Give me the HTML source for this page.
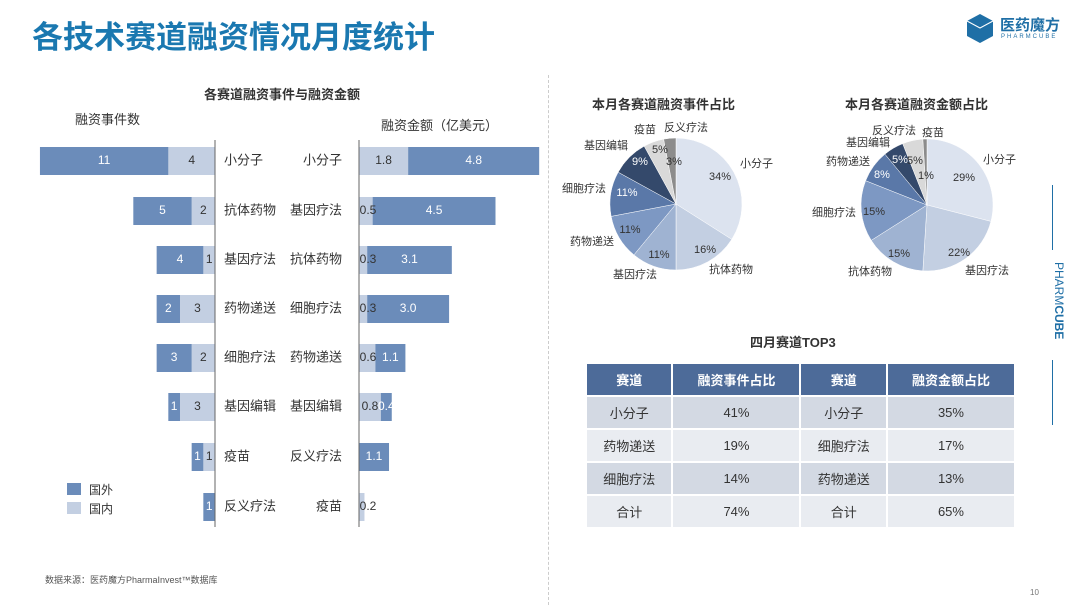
<!DOCTYPE html>
<html><head><meta charset="utf-8"><style>
body{margin:0;width:1080px;height:606px;background:#fff;position:relative;overflow:hidden;font-family:"Liberation Sans","Noto Sans CJK SC",sans-serif;color:#333}
.a{position:absolute;white-space:nowrap}
table{position:absolute;left:585px;top:362px;border-collapse:collapse;width:431px;font-size:13px}
td,th{border:2px solid #fff;text-align:center;height:31px;padding:0}
th{background:#4d6b99;color:#fff;font-weight:bold}
tr.g td{background:#d3d9e3}tr.w td{background:#e9ecf1}
</style></head><body>
<div class="a" style="left:32px;top:12px;font-size:31px;font-weight:bold;color:#1a78b0">各技术赛道融资情况月度统计</div>
<svg class="a" style="left:965px;top:13px" width="30" height="30"><polygon points="15,1 28,8 28,23 15,30 2,23 2,8" fill="#1f6fa6"/><polyline points="2,8 15,15 28,8 M15,15 15,30" fill="none" stroke="#fff" stroke-width="1"/></svg>
<div class="a" style="left:1000px;top:14px;font-size:15px;font-weight:bold;color:#1f6fa6">医药魔方</div>
<div class="a" style="left:1001px;top:34px;font-size:6px;letter-spacing:2px;color:#1f6fa6">PHARMCUBE</div>
<div class="a" style="left:1052px;top:185px;width:1px;height:65px;background:#1f6fa6"></div>
<div class="a" style="left:1052px;top:360px;width:1px;height:65px;background:#1f6fa6"></div>
<div class="a" style="left:1066px;top:262px;transform:rotate(90deg);transform-origin:0 0;font-size:12px;color:#1f6fa6">PHARM<b>CUBE</b></div>
<div class="a" style="left:548px;top:75px;height:530px;border-left:1px dashed #ccc"></div>
<div class="a" style="left:204px;top:84px;font-size:13px;font-weight:bold">各赛道融资事件与融资金额</div>
<div class="a" style="left:75px;top:109px;font-size:13px">融资事件数</div>
<div class="a" style="left:381px;top:115px;font-size:13px">融资金额（亿美元）</div>
<svg class="a" style="left:0;top:0" width="1080" height="606" id="s"></svg>
<div class="a" style="left:67px;top:483px;width:14px;height:12px;background:#6b8cba"></div><div class="a" style="left:89px;top:481px;font-size:12px">国外</div>
<div class="a" style="left:67px;top:502px;width:14px;height:12px;background:#c3cfe2"></div><div class="a" style="left:89px;top:500px;font-size:12px">国内</div>
<div class="a" style="left:592px;top:94px;font-size:13px;font-weight:bold">本月各赛道融资事件占比</div>
<div class="a" style="left:845px;top:94px;font-size:13px;font-weight:bold">本月各赛道融资金额占比</div>
<div class="a" style="left:750px;top:332px;font-size:13px;font-weight:bold">四月赛道TOP3</div>
<table><tr><th>赛道</th><th>融资事件占比</th><th>赛道</th><th>融资金额占比</th></tr>
<tr class="g"><td>小分子</td><td>41%</td><td>小分子</td><td>35%</td></tr>
<tr class="w"><td>药物递送</td><td>19%</td><td>细胞疗法</td><td>17%</td></tr>
<tr class="g"><td>细胞疗法</td><td>14%</td><td>药物递送</td><td>13%</td></tr>
<tr class="w"><td>合计</td><td>74%</td><td>合计</td><td>65%</td></tr></table>
<div class="a" style="left:45px;top:573px;font-size:9px;color:#555">数据来源：医药魔方PharmaInvest™数据库</div>
<div class="a" style="left:1030px;top:588px;font-size:8px;color:#777">10</div>
<script>
var s=document.getElementById('s'),h='';
var D='#6b8cba',L='#c3cfe2';
function r(x,y,w,hh,c){h+='<rect x="'+x+'" y="'+y+'" width="'+w+'" height="'+hh+'" fill="'+c+'"/>';}
function t(x,y,txt,o){o=o||{};h+='<text x="'+x+'" y="'+y+'" font-size="'+(o.fs||12)+'" fill="'+(o.c||'#333')+'" text-anchor="'+(o.a||'middle')+'" dominant-baseline="middle" font-family="Liberation Sans,Noto Sans CJK SC,sans-serif">'+txt+'</text>';}
var ys=[161,211,260,309,358,407,457,507];
var ln=['小分子','抗体药物','基因疗法','药物递送','细胞疗法','基因编辑','疫苗','反义疗法'];
var lv=[[11,4],[5,2],[4,1],[2,3],[3,2],[1,3],[1,1],[1,0]];
var rn=['小分子','基因疗法','抗体药物','细胞疗法','药物递送','基因编辑','反义疗法','疫苗'];
var rv=[[1.8,4.8],[0.5,4.5],[0.3,3.1],[0.3,3.0],[0.6,1.1],[0.8,0.4],[0,1.1],[0.2,0]];
var ku=11.67,ru=27.3;
for(var i=0;i<8;i++){var y=ys[i]-14;
var lw=lv[i][1]*ku,dw=lv[i][0]*ku;
r(215-lw,y,lw,28,L);r(215-lw-dw,y,dw,28,D);
t(215-lw-dw/2,ys[i],lv[i][0],{c:'#fff'});if(lv[i][1])t(215-lw/2,ys[i],lv[i][1]);
t(224,ys[i],ln[i],{a:'start',fs:13});
var a=rv[i][0]*ru,b=rv[i][1]*ru;
r(359,y,a,28,L);r(359+a,y,b,28,D);
if(rv[i][0])t(359+Math.max(a,18)/2,ys[i],rv[i][0].toFixed(1));
if(rv[i][1])t(359+a+b/2,ys[i],rv[i][1].toFixed(1),{c:'#fff'});
t(342,ys[i],rn[i],{a:'end',fs:13});}
h+='<line x1="215" y1="140" x2="215" y2="527" stroke="#666"/><line x1="359" y1="140" x2="359" y2="527" stroke="#666"/>';
var cols=['#dce3ef','#c3cfe2','#9fb3d2','#7d98c3','#5a78a8','#34496b','#d9d9d9','#8c8c8c'];
function pie(cx,cy,R,v,pc){var a0=-Math.PI/2;for(var i=0;i<v.length;i++){var a1=a0+v[i]/100*2*Math.PI;
var x0=cx+R*Math.cos(a0),y0=cy+R*Math.sin(a0),x1=cx+R*Math.cos(a1),y1=cy+R*Math.sin(a1);
h+='<path d="M'+cx+','+cy+'L'+x0+','+y0+'A'+R+','+R+' 0 '+(a1-a0>Math.PI?1:0)+' 1 '+x1+','+y1+'Z" fill="'+pc[i]+'" stroke="#fff" stroke-width="0.5"/>';a0=a1;}}
pie(676,204,66,[34,16,11,11,11,9,5,3],cols);
pie(927,205,66,[29,22,15,15,8,5,5,1],cols);
var P=[[720,177,'34%'],[705,250,'16%'],[659,255,'11%'],[630,230,'11%'],[627,193,'11%','#fff'],[640,162,'9%','#fff'],[660,150,'5%'],[674,162,'3%'],
[964,178,'29%'],[959,253,'22%'],[899,254,'15%'],[874,212,'15%'],[882,175,'8%','#fff'],[900,160,'5%','#fff'],[915,161,'5%'],[926,176,'1%']];
P.forEach(function(p){t(p[0],p[1],p[2],{fs:11,c:p[3]||'#333'});});
var Q=[[740,164,'小分子'],[709,270,'抗体药物'],[613,275,'基因疗法'],[570,242,'药物递送'],[562,189,'细胞疗法'],[584,146,'基因编辑'],[634,130,'疫苗'],[664,128,'反义疗法'],
[983,160,'小分子'],[965,271,'基因疗法'],[848,272,'抗体药物'],[812,213,'细胞疗法'],[826,162,'药物递送'],[846,143,'基因编辑'],[872,131,'反义疗法'],[922,133,'疫苗']];
Q.forEach(function(q){t(q[0],q[1],q[2],{a:'start',fs:11});});
s.innerHTML=h;
</script>
</body></html>
